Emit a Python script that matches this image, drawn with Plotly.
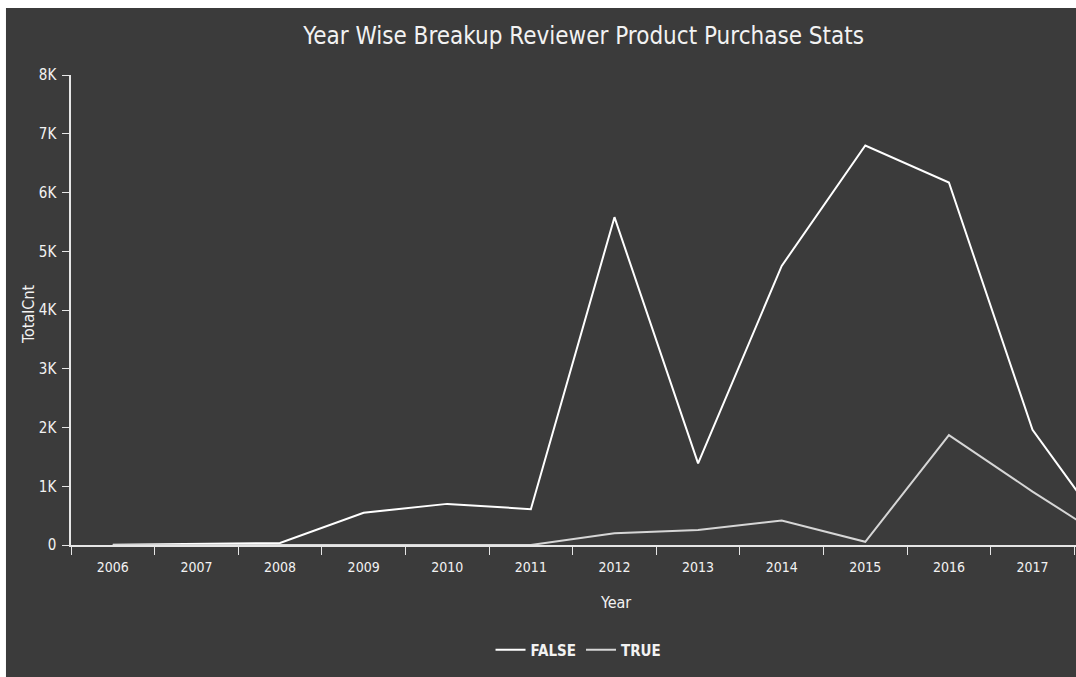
import plotly.graph_objects as go

# Reviews per year, split by purchase flag
years = ["2006", "2007", "2008", "2009", "2010", "2011", "2012",
         "2013", "2014", "2015", "2016", "2017", "2018"]
false_cnt = [5, 15, 35, 550, 700, 610, 5580, 1390, 4750, 6800, 6170, 1960, 0]
true_cnt = [0, 0, 0, 0, 0, 0, 200, 255, 415, 55, 1870, 910, 0]

y_tickvals = [0, 1000, 2000, 3000, 4000, 5000, 6000, 7000, 8000]
y_ticktext = ["0", "1K", "2K", "3K", "4K", "5K", "6K", "7K", "8K"]

FONT = "DejaVu Sans Condensed, Liberation Sans Narrow, sans-serif"
CHALK = "#3b3b3b"
INK = "#f2f2f2"

fig = go.Figure()
fig.add_trace(go.Scatter(
    x=years, y=false_cnt, name="FALSE", mode="lines",
    line=dict(color="#ffffff", width=2),
))
fig.add_trace(go.Scatter(
    x=years, y=true_cnt, name="TRUE", mode="lines",
    line=dict(color="#d6d6d6", width=2),
))

# blackboard panel
fig.add_shape(type="rect", xref="paper", yref="paper",
              x0=-0.0647, x1=1.02, y0=-0.31, y1=1.1426,
              fillcolor=CHALK, line=dict(width=0), layer="below")

fig.update_layout(
    width=1076, height=677,
    margin=dict(l=71, r=0, t=75, b=132),
    paper_bgcolor="#ffffff",
    plot_bgcolor="rgba(0,0,0,0)",
    font=dict(family=FONT, color=INK, size=15),
    title=dict(text="Year Wise Breakup Reviewer Product Purchase Stats",
               x=0.51, xref="paper", xanchor="center",
               y=1 - 36 / 677, yref="container", yanchor="middle",
               font=dict(family=FONT, size=24, color=INK)),
    showlegend=True,
    legend=dict(orientation="h", x=0.505, xanchor="center",
                y=-0.2234, yanchor="middle",
                font=dict(family=FONT, size=15, color=INK, weight="bold"),
                bgcolor="rgba(0,0,0,0)", itemwidth=30),
    xaxis=dict(
        type="category", range=[-0.5, 11.52],
        showline=True, linecolor="#e6e6e6", linewidth=1.5,
        ticks="outside", tickson="boundaries", ticklen=8,
        tickcolor="#e6e6e6", tickwidth=1,
        showgrid=False, zeroline=False,
        tickfont=dict(family=FONT, size=14, color=INK),
        ticklabelstandoff=8,
    ),
    yaxis=dict(
        range=[0, 8000],
        tickvals=y_tickvals, ticktext=y_ticktext,
        showline=True, linecolor="#e6e6e6", linewidth=1.5,
        ticks="outside", ticklen=7, tickcolor="#e6e6e6", tickwidth=1,
        showgrid=False, zeroline=False,
        tickfont=dict(family=FONT, size=15, color=INK),
        ticklabelstandoff=3,
    ),
    annotations=[
        dict(text="Year", xref="paper", yref="paper",
             x=(615 - 71) / 1005, y=(545 - 602) / 470,
             xanchor="center", yanchor="middle", showarrow=False,
             font=dict(family=FONT, size=16, color=INK)),
        dict(text="TotalCnt", xref="paper", yref="paper",
             x=(28 - 71) / 1005, y=(545 - 314) / 470, textangle=-90,
             xanchor="center", yanchor="middle", showarrow=False,
             font=dict(family=FONT, size=16, color=INK)),
    ],
)

fig.write_html("out.html")
